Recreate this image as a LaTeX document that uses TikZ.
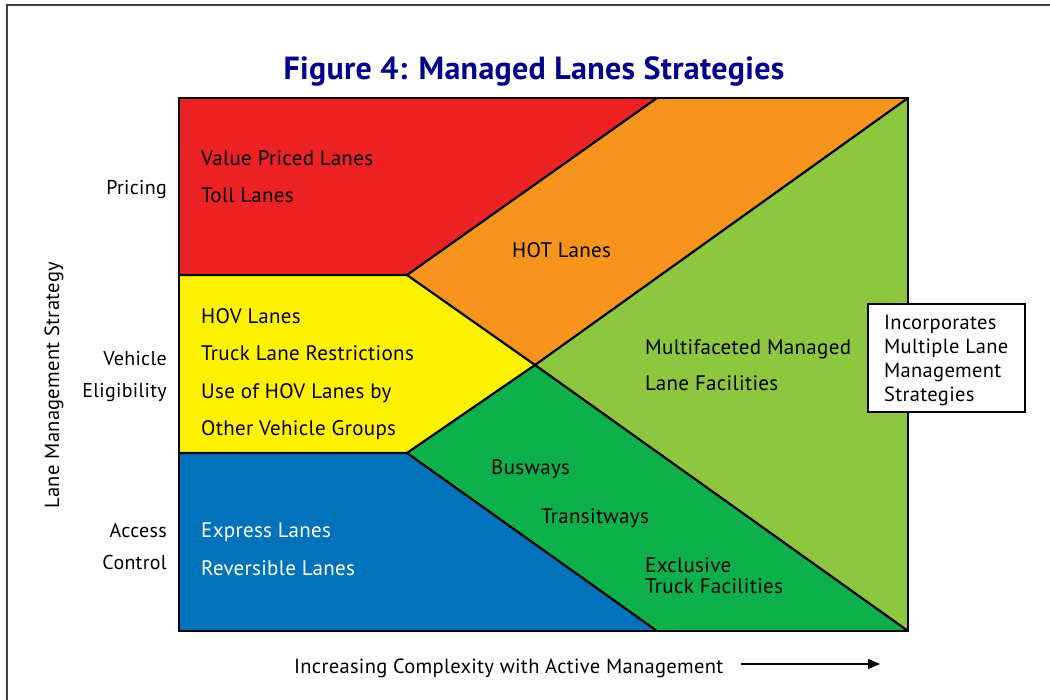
\documentclass[tikz,border=0pt]{standalone}
\usepackage{fontspec}
\setmainfont{PT Sans}[LetterSpace=1.5]
\newfontfamily\titlefont{PT Sans}[Numbers=OldStyle, LetterSpace=1.0]
\usetikzlibrary{arrows.meta}
\definecolor{cred}{HTML}{ED2224}
\definecolor{corange}{HTML}{F7941E}
\definecolor{cyellow}{HTML}{FFF200}
\definecolor{cblue}{HTML}{0072BC}
\definecolor{cdgreen}{HTML}{0DB04B}
\definecolor{clgreen}{HTML}{8DC63F}
\definecolor{navy}{RGB}{0,0,140}
\tikzset{
  edge/.style={line width=2.2pt, line join=round},
  lbl/.style={anchor=base west, inner sep=0pt, font=\fontsize{21}{24}\selectfont},
  side/.style={anchor=base east, inner sep=0pt, font=\fontsize{20}{24}\selectfont},
}
\begin{document}
\begin{tikzpicture}[x=1pt,y=-1pt]
\useasboundingbox (0,0) rectangle (1050,700);
% frame
\draw[line width=1.3pt, black!75] (7,700) -- (7,5) -- (1050,5);
% corner coordinates
\coordinate (TL) at (179,98);
\coordinate (TR) at (908,98);
\coordinate (BL) at (179,631);
\coordinate (BR) at (908,631);
\coordinate (RY) at (407,275);
\coordinate (YB) at (407,453);
\coordinate (C) at (535,365);
\coordinate (TM) at (657,98);
\coordinate (BM) at (657,631);
\coordinate (LY) at (179,275);
\coordinate (LB) at (179,453);
% fills
\fill[cred] (TL) -- (TM) -- (RY) -- (LY) -- cycle;
\fill[corange] (TM) -- (TR) -- (C) -- (RY) -- cycle;
\fill[cyellow] (LY) -- (RY) -- (C) -- (YB) -- (LB) -- cycle;
\fill[cblue] (LB) -- (YB) -- (BM) -- (BL) -- cycle;
\fill[cdgreen] (YB) -- (C) -- (BR) -- (BM) -- cycle;
\fill[clgreen] (C) -- (TR) -- (BR) -- cycle;
% edges
\draw[edge] (LY) -- (RY) -- (TM);
\draw[edge] (LB) -- (YB) -- (BM);
\draw[edge] (RY) -- (C) -- (TR);
\draw[edge] (YB) -- (C) -- (BR);
\draw[line width=2.8pt, line join=miter] (TL) rectangle (BR);
% title
\node[anchor=base, inner sep=0pt, text=navy, font=\titlefont\fontsize{32}{34}\selectfont\bfseries] (title) at (534,80) {Figure 4: Managed Lanes Strategies};
% region labels
\node[lbl] (vpl) at (201,166) {Value Priced Lanes};
\node[lbl] (tl) at (201,203) {Toll Lanes};
\node[lbl] (hot) at (512,258) {HOT Lanes};
\node[lbl] (hov) at (201,324) {HOV Lanes};
\node[lbl] (tlr) at (201,361) {Truck Lane Restrictions};
\node[lbl] (uoh) at (201,399) {Use of HOV Lanes by};
\node[lbl] (ovg) at (201,436) {Other Vehicle Groups};
\node[lbl] (mm) at (645,355) {Multifaceted Managed};
\node[lbl] (lf) at (645,391) {Lane Facilities};
\node[lbl] (bw) at (491,475) {Busways};
\node[lbl] (tw) at (541,523) {Transitways};
\node[lbl] (ex) at (645,572) {Exclusive};
\node[lbl] (tf) at (645,593) {Truck Facilities};
\node[lbl, text=white] (el) at (201,537) {Express Lanes};
\node[lbl, text=white] (rl) at (201,575) {Reversible Lanes};
% side labels
\node[side] (pr) at (167,195) {Pricing};
\node[side] (ve) at (167,366) {Vehicle};
\node[side] (eg) at (167,398) {Eligibility};
\node[side] (ac) at (167,537) {Access};
\node[side] (co) at (167,569) {Control};
\node[anchor=base, inner sep=0pt, rotate=90, font=\fontsize{20.5}{24}\selectfont] (lms) at (59,385) {Lane Management Strategy};
% box
\node[draw, line width=2pt, fill=white, minimum width=157pt, minimum height=108pt, anchor=north west] (box) at (867,303) {};
\node[anchor=north west, inner sep=0pt, align=left, font=\fontsize{20.5}{24}\selectfont] (boxt) at (884,315) {Incorporates\\Multiple Lane\\Management\\Strategies};
% bottom axis
\node[lbl, font=\fontsize{20.5}{24}\selectfont] (ax) at (294,673) {Increasing Complexity with Active Management};
\coordinate (a1) at (741,664);
\coordinate (a2) at (880,664);
\draw[line width=1.3pt, -{Triangle[length=12pt,width=10pt]}] (a1) -- (a2);
\end{tikzpicture}
\end{document}
